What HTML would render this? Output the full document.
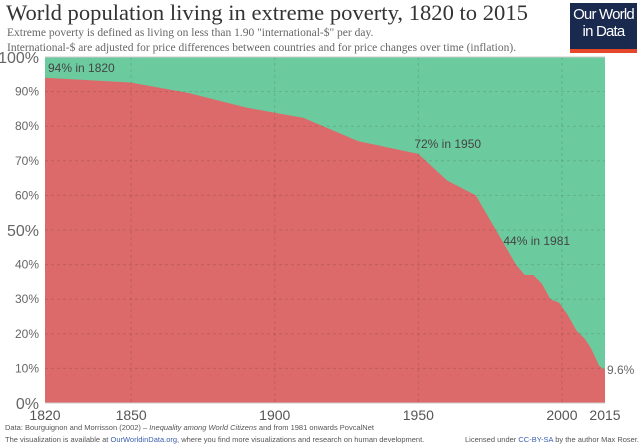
<!DOCTYPE html>
<html><head><meta charset="utf-8"><style>
body{margin:0;width:640px;height:448px;background:#fff;font-family:"Liberation Sans",sans-serif;overflow:hidden;position:relative}
.t{position:absolute;white-space:nowrap}
</style></head><body>
<div class="t" style="left:6px;top:0px;font-family:'Liberation Serif',serif;font-size:22.6px;color:#333">World population living in extreme poverty, 1820 to 2015</div>
<div class="t" style="left:7px;top:27px;font-family:'Liberation Serif',serif;font-size:11.5px;color:#666">Extreme poverty is defined as living on less than 1.90 "international-$" per day.</div>
<div class="t" style="left:7px;top:42px;font-family:'Liberation Serif',serif;font-size:11.5px;color:#666">International-$ are adjusted for price differences between countries and for price changes over time (inflation).</div>
<div style="position:absolute;left:570px;top:3px;width:67px;height:50px;background:#1a2a4f;color:#fff;font-size:15px;line-height:17px;text-align:center;padding-top:3px;box-sizing:border-box;border-bottom:4px solid #e5472b;letter-spacing:-0.8px">Our World<br>in Data</div>
<svg id="c" width="640" height="448" style="position:absolute;left:0;top:0"></svg>
<div class="t" style="left:5px;top:423px;font-size:7.5px;color:#555">Data: Bourguignon and Morrisson (2002) – <i>Inequality among World Citizens</i> and from 1981 onwards PovcalNet</div>
<div class="t" style="left:5px;top:435px;font-size:7.5px;color:#555">The visualization is available at <span style="color:#3a5fb0">OurWorldinData.org</span>, where you find more visualizations and research on human development.</div>
<div class="t" style="left:465px;top:435px;font-size:7.5px;color:#555">Licensed under <span style="color:#3a5fb0">CC-BY-SA</span> by the author Max Roser.</div>
<script>
const years=[1820,1850,1870,1890,1910,1929,1950,1960,1970,1981,1984,1987,1990,1993,1996,1999,2002,2005,2008,2010,2012,2013,2015];
const poverty=[94,92.6,89.6,85.4,82.4,75.7,72,64.3,60,44.3,40,37,37,34.5,30,29,25.5,21,18.5,16,12.5,10.7,9.6];
const yTicks=[0,10,20,30,40,50,60,70,80,90,100];
const xTicks=[1820,1850,1900,1950,2000,2015];
const notes=[["94% in 1820",1820,94],["72% in 1950",1950,72],["44% in 1981",1981,44]];
const X0=45,X1=605,Y0=403,Y1=57;
const xs=y=>X0+(y-1820)/(2015-1820)*(X1-X0);
const ys=v=>Y0-v/100*(Y0-Y1);
const svg=document.getElementById('c'),NS='http://www.w3.org/2000/svg';
function mk(t,a,p){const e=document.createElementNS(NS,t);for(const k in a)e.setAttribute(k,a[k]);(p||svg).appendChild(e);return e;}
const g=mk('rect',{x:X0,y:Y1,width:X1-X0,height:Y0-Y1,fill:'#6bcb9e'});


let d='M'+xs(years[0])+','+Y0;
years.forEach((y,i)=>d+=' L'+xs(y)+','+ys(poverty[i]));
d+=' L'+xs(2015)+','+Y0+' Z';
const r=mk('path',{d:d,fill:'#dc6a6a'});


xTicks.forEach(t=>{
 if(t!==1820&&t!==2015){const l=mk('line',{x1:xs(t),x2:xs(t),y1:Y1,y2:Y0,stroke:'rgba(0,0,0,0.12)','stroke-dasharray':'3,3'});
 
 }
 const tx=mk('text',{x:xs(t),y:420,'text-anchor':'middle','font-size':'14',fill:'#555'});tx.textContent=t;
 
 
});
yTicks.forEach(t=>{
 const l=mk('line',{x1:X0,x2:X1,y1:ys(t),y2:ys(t),stroke:t==0||t==100?'#ccc':'rgba(0,0,0,0.12)','stroke-dasharray':t==0||t==100?'':'3,3'});
 
 
 const big=t===100||t===0||t===50;
 const tx=mk('text',{x:39,y:ys(t)+(big?6:4),'text-anchor':'end','font-size':big?'16':'12',fill:'#666'});tx.textContent=t+'%';
 
 
});
notes.forEach(n=>{
 const tx=mk('text',{x:n[1]===1820?xs(n[1])+3:xs(n[1])-4,y:ys(n[2])-6,'font-size':'12',fill:'#444'});
 tx.textContent=n[0];
 
 
});
const e=mk('text',{x:X1+2,y:ys(poverty[poverty.length-1])+4,'font-size':'12',fill:'#666'});e.textContent='9.6%';


</script>
</body></html>
